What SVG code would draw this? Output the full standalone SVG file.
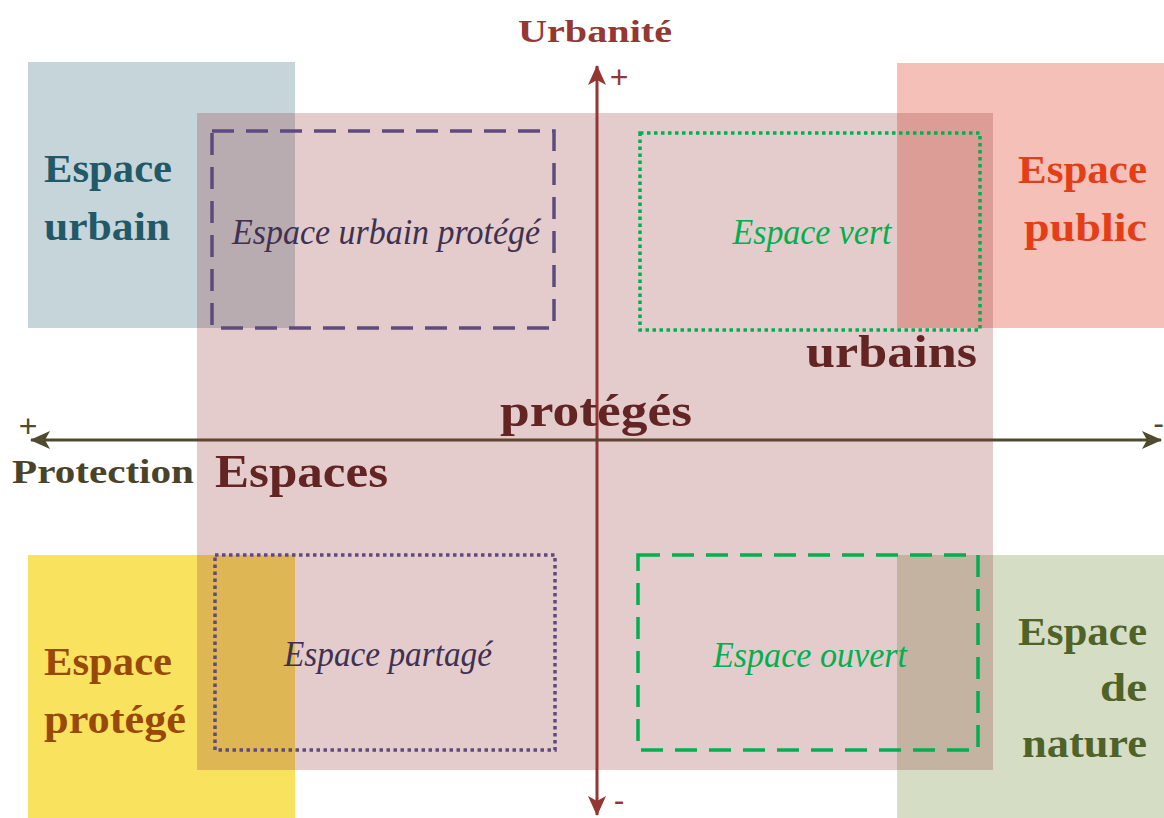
<svg xmlns="http://www.w3.org/2000/svg" width="1164" height="818" viewBox="0 0 1164 818">
<style>
.bold{font-family:"Liberation Serif","Times New Roman",serif;font-weight:bold}
.it{font-family:"Liberation Serif","Times New Roman",serif;font-style:italic;font-size:36px}
.corner{font-size:40px}
.big{font-size:46px;fill:#632523}
.dash{fill:none;stroke-width:3.5;stroke-dasharray:22 12}
.dot{fill:none;stroke-width:3.5;stroke-dasharray:3.5 3.5}
.axv{stroke:#943634;stroke-width:3;fill:none}
.axh{stroke:#4f4a30;stroke-width:3;fill:none}
.sign{font-family:"Liberation Sans",Arial,sans-serif;font-size:32px}
</style>
<defs>
<marker id="ahv" viewBox="0 0 20 20" refX="19" refY="10" markerWidth="20" markerHeight="20" markerUnits="userSpaceOnUse" orient="auto-start-reverse">
<path d="M0,1 L20,10 L0,19 L5,10 Z" fill="#943634"/>
</marker>
<marker id="ahh" viewBox="0 0 20 20" refX="19" refY="10" markerWidth="20" markerHeight="20" markerUnits="userSpaceOnUse" orient="auto-start-reverse">
<path d="M0,1 L20,10 L0,19 L5,10 Z" fill="#4f4a30"/>
</marker>
</defs>
<rect width="1164" height="818" fill="#ffffff"/>

<g id="espace-urbain">
<rect x="28" y="62" width="267" height="266" fill="#c6d5da"/>
<text class="bold corner" fill="#215968" x="44" y="182" textLength="128" lengthAdjust="spacingAndGlyphs">Espace</text>
<text class="bold corner" fill="#215968" x="44" y="240" textLength="126" lengthAdjust="spacingAndGlyphs">urbain</text>
</g>
<g id="espace-public">
<rect x="897" y="63" width="267" height="265" fill="#f5c0b7"/>
<text class="bold corner" fill="#e53e17" x="1147" y="183" text-anchor="end" textLength="129" lengthAdjust="spacingAndGlyphs">Espace</text>
<text class="bold corner" fill="#e53e17" x="1147" y="241" text-anchor="end" textLength="123" lengthAdjust="spacingAndGlyphs">public</text>
</g>
<g id="espace-protege">
<rect x="28" y="555" width="267" height="263" fill="#f8e25e"/>
<text class="bold corner" fill="#984807" x="44" y="675" textLength="128" lengthAdjust="spacingAndGlyphs">Espace</text>
<text class="bold corner" fill="#984807" x="44" y="733" textLength="142" lengthAdjust="spacingAndGlyphs">protégé</text>
</g>
<g id="espace-de-nature">
<rect x="897" y="555" width="267" height="263" fill="#d5dec5"/>
<text class="bold corner" fill="#4f6228" x="1147" y="645" text-anchor="end" textLength="129" lengthAdjust="spacingAndGlyphs">Espace</text>
<text class="bold corner" fill="#4f6228" x="1147" y="701" text-anchor="end" textLength="47" lengthAdjust="spacingAndGlyphs">de</text>
<text class="bold corner" fill="#4f6228" x="1147" y="757" text-anchor="end" textLength="125" lengthAdjust="spacingAndGlyphs">nature</text>
</g>

<g id="connectors">
<path class="axv" d="M597,815 L597,66" marker-start="url(#ahv)" marker-end="url(#ahv)"/>
<path class="axh" d="M1161,440 L31,440" marker-start="url(#ahh)" marker-end="url(#ahh)"/>
<text class="sign" fill="#943634" x="619" y="88" text-anchor="middle">+</text>
<text class="sign" fill="#943634" x="619" y="811" text-anchor="middle" font-size="28">-</text>
<text class="sign" fill="#4f4a30" x="28" y="437" text-anchor="middle">+</text>
<text class="sign" fill="#4f4a30" x="1164" y="434" text-anchor="end">-</text>
<text class="bold" font-size="32" fill="#953735" x="595" y="42" text-anchor="middle" textLength="154" lengthAdjust="spacingAndGlyphs">Urbanité</text>
<text class="bold" font-size="34" fill="#494429" x="12" y="483" textLength="182" lengthAdjust="spacingAndGlyphs">Protection</text>
</g>

<g id="espaces-proteges-urbains">
<rect x="197" y="113" width="796" height="657" fill="#933337" fill-opacity="0.25"/>
<text class="bold big" x="977" y="367" text-anchor="end" textLength="171" lengthAdjust="spacingAndGlyphs">urbains</text>
<text class="bold big" x="596" y="426" text-anchor="middle" textLength="192" lengthAdjust="spacingAndGlyphs">protégés</text>
<text class="bold big" x="215" y="487" textLength="173" lengthAdjust="spacingAndGlyphs">Espaces</text>
</g>

<g id="espace-urbain-protege">
<rect class="dash" x="212" y="131" width="342" height="197" stroke="#5f4a7d"/>
<text class="it" fill="#403151" x="386" y="244" text-anchor="middle" textLength="308" lengthAdjust="spacingAndGlyphs">Espace urbain protégé</text>
</g>
<g id="espace-vert">
<rect class="dot" x="640" y="133" width="340" height="197" stroke="#00b050"/>
<text class="it" fill="#00b050" x="812" y="244" text-anchor="middle" textLength="159" lengthAdjust="spacingAndGlyphs">Espace vert</text>
</g>
<g id="espace-partage">
<rect class="dot" x="215" y="555" width="340" height="195" stroke="#5f4a7d"/>
<text class="it" fill="#403151" x="388" y="666" text-anchor="middle" textLength="208" lengthAdjust="spacingAndGlyphs">Espace partagé</text>
</g>
<g id="espace-ouvert">
<rect class="dash" x="638" y="555" width="340" height="195" stroke="#00b050"/>
<text class="it" fill="#00b050" x="810" y="667" text-anchor="middle" textLength="194" lengthAdjust="spacingAndGlyphs">Espace ouvert</text>
</g>
</svg>
